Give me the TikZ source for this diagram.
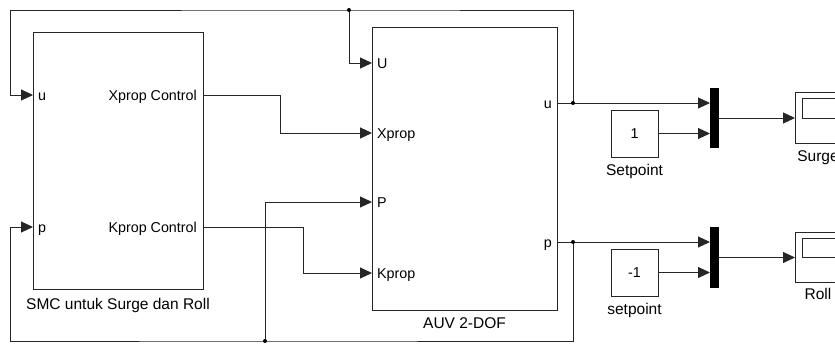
\documentclass[tikz,border=0pt]{standalone}
\usepackage{fontspec}
\setmainfont{Liberation Sans}
\usetikzlibrary{positioning,arrows.meta,calc}

\begin{document}
\begin{tikzpicture}[x=1pt, y=-1pt, >={Triangle[length=12pt,width=11pt]},
    wire/.style={draw=black!85, line width=1pt},
    blk/.style={draw=black!85, line width=1pt, inner sep=0pt, outer sep=0pt},
    bar/.style={fill=black, inner sep=0pt, outer sep=0pt, minimum width=9pt},
    port/.style={font=\fontsize{14.3}{16}\selectfont, inner sep=0pt,
                 text height=10pt, text depth=0pt},
    blkname/.style={font=\fontsize{15.5}{17}\selectfont, inner sep=0pt},
    jdot/.style={circle, fill=black, inner sep=0pt, minimum size=4pt}]
  \useasboundingbox (0,0) rectangle (835,343);
  \clip (0,0) rectangle (835,343);

  % Controller block
  \node[blk, minimum width=170pt, minimum height=257pt] (smc) at (118,160.5) {};
  \node[port, anchor=west] (smc-u) at (38,95) {u};
  \node[port, anchor=west] (smc-p) at (38,227) {p};
  \node[port, anchor=east] (smc-x) at (197,95) {Xprop Control};
  \node[port, anchor=east] (smc-k) at (197,227) {Kprop Control};
  \node[blkname, below=9pt of smc] (smc-name) {SMC untuk Surge dan Roll};

  % Plant block
  \node[blk, minimum width=185pt, minimum height=283pt] (auv) at (464.5,168.5) {};
  \node[port, anchor=west] (auv-U) at (377,63) {U};
  \node[port, anchor=west] (auv-x) at (377,133) {Xprop};
  \node[port, anchor=west] (auv-P) at (377,202) {P};
  \node[port, anchor=west] (auv-k) at (377,273) {Kprop};
  \node[port, anchor=east] (auv-u) at (552,103) {u};
  \node[port, anchor=east] (auv-p) at (552,242) {p};
  \node[blkname, below=7pt of auv] (auv-name) {AUV 2-DOF};

  % Setpoints, muxes and scopes
  \node[blk, minimum width=47pt, minimum height=47pt,
        font=\fontsize{14.3}{16}\selectfont] (sp1) at (634.5,133.5) {1};
  \node[blkname, below=7pt of sp1] (sp1-name) {Setpoint};
  \node[blk, minimum width=47pt, minimum height=47pt,
        font=\fontsize{14.3}{16}\selectfont] (sp2) at (634.5,272.5) {-1};
  \node[blkname, below=7pt of sp2] (sp2-name) {setpoint};

  \node[bar, minimum height=60pt] (mux1) at (714.5,118) {};
  \node[bar, minimum height=61pt] (mux2) at (714.5,257.5) {};

  \node[blk, minimum width=46pt, minimum height=51pt] (surge) at (818,117.5) {};
  \node[blk, minimum width=46pt, minimum height=20pt, anchor=north west]
    (surge-scr) at ([xshift=7pt,yshift=-6pt]surge.north west) {};
  \node[blkname, below=7pt of surge] (surge-name) {Surge};
  \node[blk, minimum width=46pt, minimum height=50pt] (roll) at (818,257) {};
  \node[blk, minimum width=46pt, minimum height=19pt, anchor=north west]
    (roll-scr) at ([xshift=7pt,yshift=-6pt]roll.north west) {};
  \node[blkname, below=6pt of roll] (roll-name) {Roll};

  % Branch points
  \coordinate (ju) at (573,103);
  \coordinate (jp) at (573,242);
  \coordinate (jt) at (349,10);
  \coordinate (jb) at (265,341);

  % Controller to plant
  \draw[wire,->] (smc.east |- smc-x) -- ++(77,0) |- (auv.west |- auv-x);
  \draw[wire,->] (smc.east |- smc-k) -- ++(100,0) |- (auv.west |- auv-k);

  % Feedback of u
  \draw[wire,->] (auv.east |- auv-u) -- (mux1.west |- auv-u);
  \draw[wire,->] (ju) |- (jt) -- ++(-339,0) |- (smc.west |- smc-u);
  \draw[wire,->] (jt) |- (auv.west |- auv-U);

  % Feedback of p
  \draw[wire,->] (auv.east |- auv-p) -- (mux2.west |- auv-p);
  \draw[wire,->] (jp) |- (jb) -- ++(-255,0) |- (smc.west |- smc-p);
  \draw[wire,->] (jb) |- (auv.west |- auv-P);

  % Setpoints into muxes, muxes into scopes
  \draw[wire,->] (sp1) -- (mux1.west |- sp1);
  \draw[wire,->] (sp2) -- (mux2.west |- sp2);
  \draw[wire,->] (mux1) -- (surge.west |- mux1);
  \draw[wire,->] (mux2) -- (roll.west |- mux2);

  \node[jdot] (d-u) at (ju) {};
  \node[jdot] (d-p) at (jp) {};
  \node[jdot] (d-t) at (jt) {};
  \node[jdot] (d-b) at (jb) {};
\end{tikzpicture}
\end{document}
